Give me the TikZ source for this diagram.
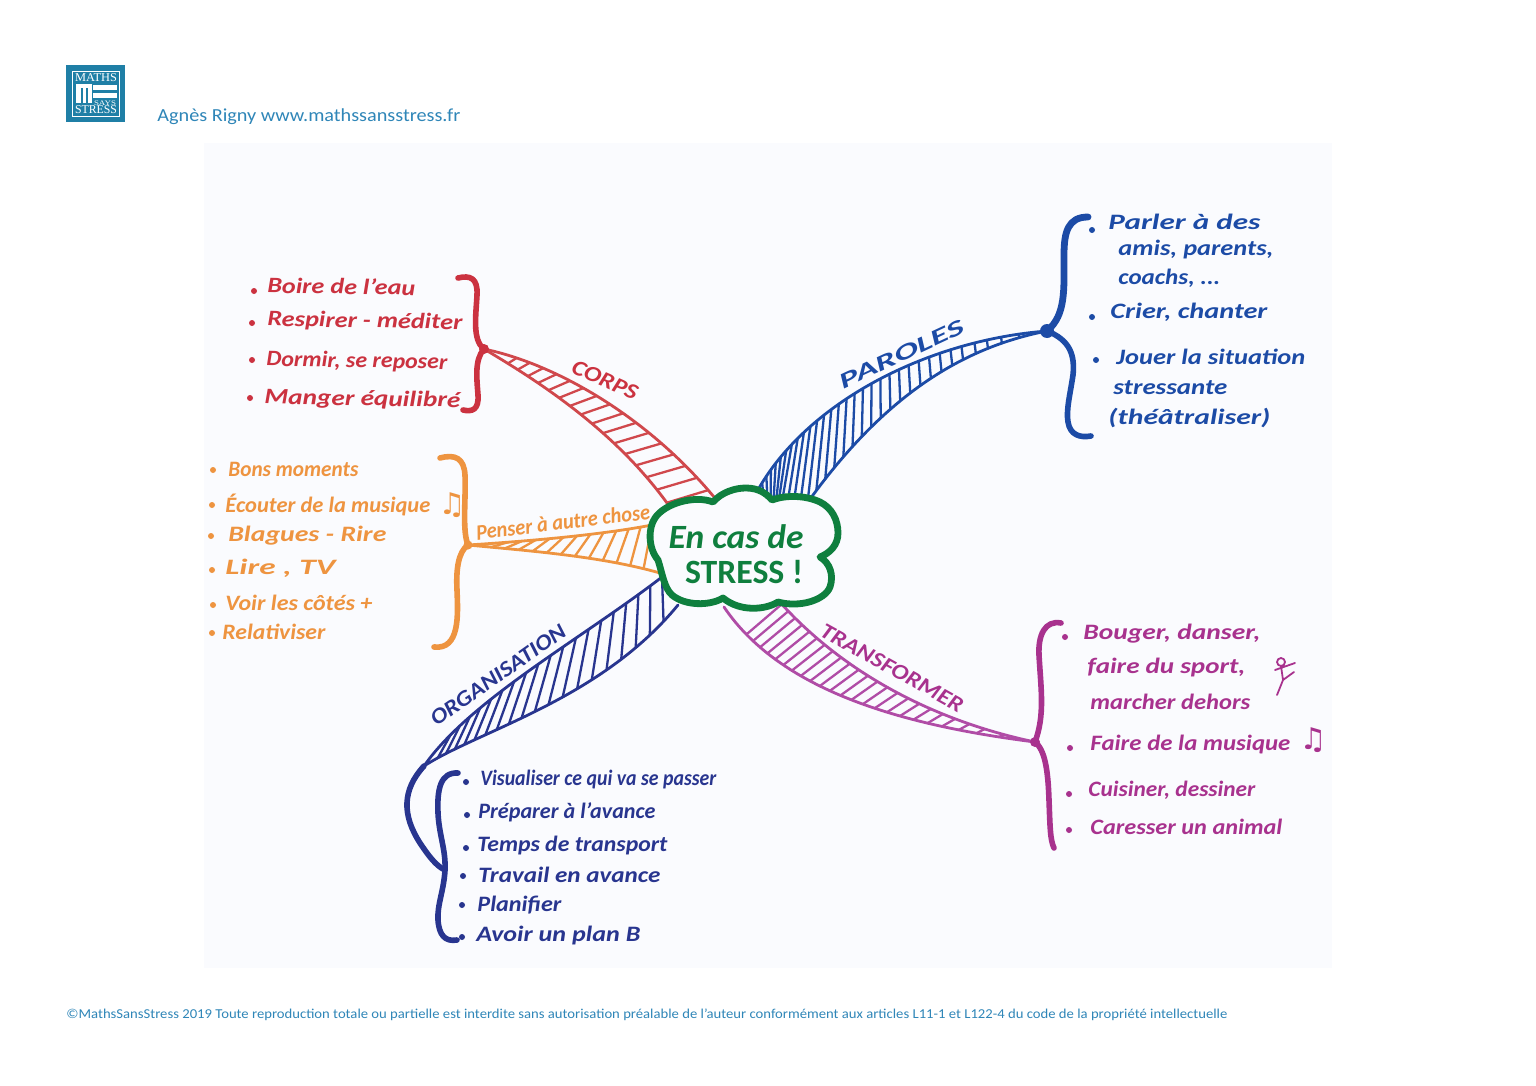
\documentclass[tikz,border=0pt]{standalone}
\usepackage{fontspec}
\usepackage{graphicx}
\setmainfont{Carlito}
\newfontfamily\symf{DejaVu Sans}
\newfontfamily\logof{Liberation Serif}
\usetikzlibrary{calc}
\definecolor{paper}{HTML}{FAFBFE}
\definecolor{web}{HTML}{2F86B8}
\definecolor{logoc}{HTML}{1F7FA6}
\definecolor{corps}{HTML}{CB3240}
\definecolor{corpsb}{HTML}{D0484C}
\definecolor{penser}{HTML}{EE9440}
\definecolor{parole}{HTML}{1C4BA6}
\definecolor{orga}{HTML}{28358F}
\definecolor{transf}{HTML}{A8328E}
\definecolor{transfb}{HTML}{B04CA6}
\definecolor{nuage}{HTML}{0F7F3E}
% widths below are in pixels of the reference (1 unit = 0.5pt)
\newcommand\hwb[2]{\resizebox{\dimexpr #1pt/2\relax}{\height}{#2}}
\tikzset{
  hw/.style={anchor=west,inner sep=0pt,font=\fontsize{11}{11}\selectfont\bfseries\itshape},
  hwcap/.style={anchor=center,inner sep=0pt,font=\fontsize{11}{11}\selectfont\bfseries\itshape},
  printed/.style={anchor=west,inner sep=0pt,text=web},
  edge/.style={line width=1.4pt,line cap=round,line join=round},
  hatchline/.style={line width=1.15pt,line cap=round},
  brace/.style={line width=2.8pt,line cap=round,line join=round},
  bracefat/.style={line width=3.4pt,line cap=round,line join=round},
}
\newcommand\dotb[2]{\fill (#1,#2) circle (3);}
% \itm{name}{bullet x}{bullet y}{x}{y}{width}{rotation}{text}
\newcommand\itm[8]{\dotb{#2}{#3}\node[hw,rotate=#7] (#1) at (#4,#5) {\hwb{#6}{#8}};}
% \lin{name}{x}{y}{width}{rotation}{text}
\newcommand\lin[6]{\node[hw,rotate=#5] (#1) at (#2,#3) {\hwb{#4}{#6}};}
% \branch{upper}{lower}{n}{t0}{t1}{power}{constant skew}{mid-curve skew}{scale of the lower position}
\newcommand\branch[9]{%
  \draw[edge] #1; \draw[edge] #2;
  \foreach \u in {0,...,#3}{%
    \pgfmathsetmacro\tA{#4+(#5-#4)*pow(\u/#3,#6)}%
    \pgfmathsetmacro\tB{max(0,min(1,#9*\tA+#7+#8*sin(180*\tA)))}%
    \path #1 coordinate[pos=\tA] (hA);
    \path #2 coordinate[pos=\tB] (hB);
    \draw[hatchline] (hA) -- (hB);
  }%
}
\begin{document}
\begin{tikzpicture}[x=0.5pt,y=-0.5pt]
\useasboundingbox (0,0) rectangle (1536,1086);
\fill[white] (0,0) rectangle (1536,1086);
\fill[paper] (204,143) rectangle (1332,968);

% logo
\fill[logoc] (66,65) rectangle (125,122);
\draw[white,line width=0.35pt] (72,71) rectangle (119,116);
\fill[white] (76,84) rectangle (92,103);
\fill[logoc] (81,88) rectangle (83,103);
\fill[logoc] (86,88) rectangle (88,103);
\fill[white] (93,85) rectangle (117,90);
\fill[white] (93,93) rectangle (117,98);
\node[anchor=center,inner sep=0pt,text=white,font=\logof\fontsize{6}{6}\selectfont] (logoA) at (96,77.5) {\hwb{42}{MATHS}};
\node[anchor=center,inner sep=0pt,text=white,font=\logof\fontsize{3.5}{4}\selectfont] (logoB) at (105,103) {\hwb{22}{SAYS}};
\node[anchor=center,inner sep=0pt,text=white,font=\logof\fontsize{6}{6}\selectfont] (logoC) at (96,110) {\hwb{42}{STRESS}};

% printed texts
\node[printed,font=\fontsize{9.2}{10}\selectfont] (auteur) at (157,117) {\hwb{303}{Agnès Rigny www.mathssansstress.fr}};
\node[printed,font=\fontsize{6.8}{8}\selectfont] (copyright) at (66,1015) {\hwb{1161}{©MathsSansStress 2019 Toute reproduction totale ou partielle est interdite sans autorisation préalable de l’auteur conformément aux articles L11-1 et L122-4 du code de la propriété intellectuelle}};

% junctions
\coordinate (jCorps) at (484,349);
\coordinate (jPenser) at (468,545);
\coordinate (jParole) at (1047,331);
\coordinate (jTransf) at (1035,742);
\coordinate (jOrga) at (424,766);

% CORPS
\begin{scope}[color=corpsb]
\branch{(jCorps) .. controls (560,365) and (650,420) .. (714,497)}{(jCorps) .. controls (545,385) and (620,435) .. (672,510)}{15}{0.14}{0.97}{1}{0}{-0.03}{1}
\end{scope}
\begin{scope}[color=corps]
\draw[brace] (458,278) .. controls (470,275) and (478,278) .. (477,295) .. controls (476,315) and (472,340) .. (jCorps);
\draw[brace] (jCorps) .. controls (474,360) and (477,380) .. (478,395) .. controls (479,410) and (472,412) .. (463,410);
\fill (jCorps) circle (5);
\itm{c1}{254}{291}{267}{285}{148}{-1}{Boire de l’eau}
\itm{c2}{252}{323}{267}{320}{195}{-1}{Respirer - méditer}
\itm{c3}{252}{360}{266}{360}{181}{-1}{Dormir, se reposer}
\itm{c4}{250}{398}{264}{398}{196}{-1}{Manger équilibré}
\node[hwcap,rotate=-24] (lCorps) at (605,380) {\hwb{70}{CORPS}};
\end{scope}

% PENSER
\begin{scope}[color=penser]
\branch{(jPenser) .. controls (530,541) and (600,535) .. (652,525)}{(jPenser) .. controls (530,551) and (600,556) .. (660,573)}{12}{0.14}{1}{1}{-0.09}{0}{1}
\draw[brace] (440,458) .. controls (455,454) and (464,458) .. (465,475) .. controls (466,500) and (462,530) .. (jPenser);
\draw[brace] (jPenser) .. controls (458,552) and (456,570) .. (457,590) .. controls (458,615) and (460,650) .. (434,647);
\fill (jPenser) circle (4.5);
\itm{o1}{213}{470}{228}{469}{130}{0}{Bons moments}
\itm{o2}{212}{505}{225}{505}{205}{0}{Écouter de la musique}
\itm{o3}{211}{536}{228}{536}{158}{0}{Blagues - Rire}
\itm{o4}{212}{570}{225}{568}{110}{0}{Lire , TV}
\itm{o5}{213}{605}{225}{603}{147}{0}{Voir les côtés +}
\itm{o6}{212}{633}{222}{632}{103}{0}{Relativiser}
\node[anchor=center,inner sep=0pt,font=\symf\fontsize{15}{15}\selectfont\bfseries] (noteA) at (452,505) {♫};
\node[hwcap,rotate=7] (lPenser) at (563,522) {\hwb{175}{Penser à autre chose}};
\end{scope}

% PAROLES
\begin{scope}[color=parole]
\branch{(jParole) .. controls (930,340) and (810,400) .. (759,488)}{(jParole) .. controls (950,350) and (860,410) .. (770,560)}{30}{0.08}{0.98}{0.85}{0}{0}{1.2}
\draw[bracefat] (1088,217) .. controls (1068,217) and (1064,232) .. (1064,255) .. controls (1064,290) and (1066,315) .. (jParole);
\draw[brace] (jParole) .. controls (1070,340) and (1075,355) .. (1073,375) .. controls (1070,395) and (1066,410) .. (1068,422) .. controls (1070,435) and (1080,438) .. (1091,436);
\fill (jParole) circle (7);
\itm{p1}{1092}{230}{1108}{222}{152}{0}{Parler à des}
\lin{p1b}{1118}{250}{155}{0}{amis, parents,}
\lin{p1c}{1118}{278}{102}{0}{coachs, ...}
\itm{p2}{1092}{317}{1110}{312}{157}{0}{Crier, chanter}
\itm{p3}{1096}{360}{1116}{357}{189}{0}{Jouer la situation}
\lin{p3b}{1113}{388}{114}{0}{stressante}
\lin{p3c}{1108}{418}{162}{0}{(théâtraliser)}
\node[hwcap,rotate=25] (lParole) at (902,354) {\hwb{135}{PAROLES}};
\end{scope}

% ORGANISATION
\begin{scope}[color=orga]
\branch{(jOrga) .. controls (470,700) and (580,640) .. (662,577)}{(jOrga) .. controls (480,730) and (600,700) .. (678,605)}{18}{0.16}{1}{1}{-0.06}{-0.05}{1}
\draw[brace] (jOrga) .. controls (402,790) and (402,815) .. (420,843) .. controls (428,855) and (436,866) .. (445,870);
\draw[brace] (458,773) .. controls (440,772) and (437,790) .. (438,813) .. controls (439,835) and (446,850) .. (445,870) .. controls (444,890) and (437,905) .. (438,920) .. controls (439,935) and (445,942) .. (457,940);
\itm{g1}{466}{782}{480}{780}{236}{0}{Visualiser ce qui va se passer}
\itm{g2}{467}{815}{478}{812}{177}{0}{Préparer à l’avance}
\itm{g3}{466}{848}{477}{846}{190}{0}{Temps de transport}
\itm{g4}{463}{876}{478}{875}{182}{0}{Travail en avance}
\itm{g5}{462}{905}{477}{905}{84}{0}{Planifier}
\itm{g6}{462}{937}{476}{935}{164}{0}{Avoir un plan B}
\node[hwcap,rotate=35] (lOrga) at (498,675) {\hwb{160}{ORGANISATION}};
\end{scope}

% TRANSFORMER
\begin{scope}[color=transfb]
\branch{(jTransf) .. controls (930,720) and (840,670) .. (778,600)}{(jTransf) .. controls (900,725) and (780,690) .. (724,607)}{22}{0.1}{0.98}{0.85}{0}{0}{0.9}
\end{scope}
\begin{scope}[color=transf]
\draw[brace] (1061,623) .. controls (1045,620) and (1038,635) .. (1039,655) .. controls (1041,690) and (1045,715) .. (jTransf);
\draw[brace] (jTransf) .. controls (1045,750) and (1048,770) .. (1049,800) .. controls (1050,825) and (1050,840) .. (1054,848);
\fill (jTransf) circle (5);
\itm{t1}{1065}{637}{1083}{634}{177}{0}{Bouger, danser,}
\lin{t1b}{1087}{668}{158}{0}{faire du sport,}
\lin{t1c}{1090}{702}{160}{0}{marcher dehors}
\itm{t2}{1070}{748}{1090}{745}{200}{0}{Faire de la musique}
\itm{t3}{1069}{794}{1088}{790}{167}{0}{Cuisiner, dessiner}
\itm{t4}{1069}{830}{1090}{827}{192}{0}{Caresser un animal}
\node[anchor=center,inner sep=0pt,font=\symf\fontsize{15}{15}\selectfont\bfseries] (noteB) at (1313,740) {♫};
\draw[line width=0.9pt,line cap=round,line join=round] (1281,662) circle (4) (1281,666) -- (1283,680) (1275,670) -- (1295,663) (1283,680) -- (1294,672) (1283,680) -- (1277,695);
\node[hwcap,rotate=-29] (lTransf) at (892,668) {\hwb{160}{TRANSFORMER}};
\end{scope}

% cloud
\path[fill=paper,draw=nuage,line width=3.4pt,line join=round]
  (713,502) .. controls (722,492) and (735,488) .. (746,488)
  .. controls (758,488) and (766,493) .. (772,500)
  .. controls (785,495) and (805,495) .. (820,502)
  .. controls (832,508) and (838,520) .. (838,533)
  .. controls (838,545) and (830,553) .. (820,557)
  .. controls (830,563) and (834,575) .. (830,587)
  .. controls (825,600) and (800,608) .. (778,602)
  .. controls (765,610) and (740,612) .. (723,598)
  .. controls (710,606) and (685,606) .. (672,595)
  .. controls (664,588) and (662,572) .. (658,560)
  .. controls (648,548) and (648,528) .. (655,518)
  .. controls (665,503) and (695,495) .. (713,502) -- cycle;
\node[anchor=center,inner sep=0pt,text=nuage,font=\fontsize{17}{17}\selectfont\bfseries\itshape] (nA) at (736,537) {\hwb{135}{En cas de}};
\node[anchor=center,inner sep=0pt,text=nuage,font=\fontsize{17}{17}\selectfont\bfseries] (nB) at (744,572) {\hwb{118}{STRESS !}};
\end{tikzpicture}
\end{document}
